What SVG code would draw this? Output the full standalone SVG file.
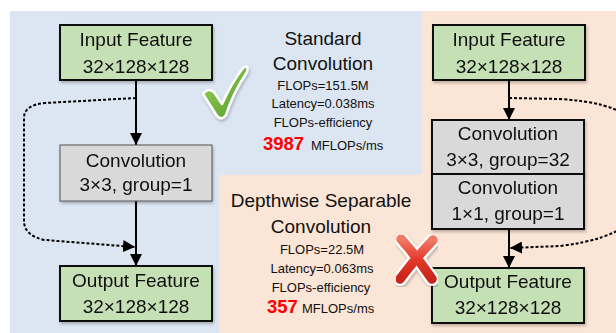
<svg xmlns="http://www.w3.org/2000/svg" width="616" height="333" viewBox="0 0 616 333">
  <defs>
    <style>
      .t { font-family: "Liberation Sans", Arial, sans-serif; fill: #111; }
      .big { font-size: 19px; text-anchor: middle; }
      .sm { font-size: 13px; text-anchor: middle; }
      .unit { font-size: 13px; }
      .num { font-size: 18.5px; font-weight: bold; fill: #ff0000; }
      .green { fill: #c5e0b4; stroke: #111; stroke-width: 2; }
      .gray { fill: #d9d9d9; stroke: #111; stroke-width: 2; }
      .gray-thin { fill: #d9d9d9; stroke: #555; stroke-width: 1; }
      .solid { fill: none; stroke: #000; stroke-width: 2; }
      .dash { fill: none; stroke: #000; stroke-width: 2; stroke-dasharray: 3 2; }
    </style>
    <marker id="ah" viewBox="0 0 12 12" refX="12" refY="6" markerWidth="12" markerHeight="12" markerUnits="userSpaceOnUse" orient="auto">
      <path d="M0,0 L12,6 L0,12 Z" fill="#000"/>
    </marker>
    <filter id="sh" x="-10%" y="-10%" width="125%" height="130%">
      <feDropShadow dx="1" dy="2" stdDeviation="1.5" flood-color="#000" flood-opacity="0.25"/>
    </filter>
    <linearGradient id="gChk" x1="0" y1="0" x2="1" y2="1">
      <stop offset="0" stop-color="#9fd45a"/>
      <stop offset="1" stop-color="#4e9a2a"/>
    </linearGradient>
    <linearGradient id="gX" x1="0" y1="0" x2="0" y2="1">
      <stop offset="0" stop-color="#f07a66"/>
      <stop offset="0.5" stop-color="#e2392a"/>
      <stop offset="1" stop-color="#c8251a"/>
    </linearGradient>
  </defs>

  <!-- background panels -->
  <rect x="0" y="0" width="616" height="333" fill="#ffffff"/>
  <rect x="10" y="11" width="412" height="164" fill="#dce6f2"/>
  <rect x="10" y="175" width="209" height="158" fill="#dce6f2"/>
  <rect x="422" y="11" width="194" height="322" fill="#fbe5d6"/>
  <rect x="219" y="175" width="203" height="158" fill="#fbe5d6"/>

  <!-- connectors -->
  <g id="connectors">
    <path class="solid" d="M136,80 L136,145" marker-end="url(#ah)"/>
    <path class="solid" d="M136,201 L136,266" marker-end="url(#ah)"/>
    <path class="dash" d="M136,98 L45,103 Q24,105 24,118 L24,222 Q25,236 45,240 L135,247" marker-end="url(#ah)"/>
    <path class="solid" d="M509,80 L509,120" marker-end="url(#ah)"/>
    <path class="solid" d="M509,229 L509,268" marker-end="url(#ah)"/>
    <path class="dash" d="M509,98 L560,99 Q610,102 630,118 L630,222 Q610,240 560,246 L510,248" marker-end="url(#ah)"/>
  </g>

  <!-- standard convolution branch -->
  <g id="std-input" filter="url(#sh)">
    <rect class="green" x="60" y="25" width="152" height="55"/>
    <text class="t big" x="136" y="46">Input Feature</text>
    <text class="t big" x="136" y="73">32×128×128</text>
  </g>
  <g id="std-conv" filter="url(#sh)">
    <rect class="gray-thin" x="60" y="145" width="152" height="56"/>
    <text class="t big" x="136" y="167">Convolution</text>
    <text class="t big" x="136" y="191">3×3, group=1</text>
  </g>
  <g id="std-output" filter="url(#sh)">
    <rect class="green" x="60" y="266" width="152" height="55"/>
    <text class="t big" x="136" y="287">Output Feature</text>
    <text class="t big" x="136" y="313">32×128×128</text>
  </g>

  <!-- depthwise separable branch -->
  <g id="dw-input" filter="url(#sh)">
    <rect class="green" x="433" y="25" width="152" height="55"/>
    <text class="t big" x="509" y="46">Input Feature</text>
    <text class="t big" x="509" y="73">32×128×128</text>
  </g>
  <g id="dw-conv" filter="url(#sh)">
    <rect class="gray" x="432" y="120" width="152" height="54"/>
    <text class="t big" x="508" y="140">Convolution</text>
    <text class="t big" x="508" y="166">3×3, group=32</text>
  </g>
  <g id="pw-conv" filter="url(#sh)">
    <rect class="gray" x="432" y="174" width="152" height="55"/>
    <text class="t big" x="508" y="194">Convolution</text>
    <text class="t big" x="508" y="220">1×1, group=1</text>
  </g>
  <g id="dw-output" filter="url(#sh)">
    <rect class="green" x="432" y="268" width="152" height="55"/>
    <text class="t big" x="508" y="288">Output Feature</text>
    <text class="t big" x="508" y="314">32×128×128</text>
  </g>

  <!-- standard convolution stats -->
  <g id="std-stats">
    <text class="t big" x="323" y="45">Standard</text>
    <text class="t big" x="323" y="70">Convolution</text>
    <text class="t sm" x="323" y="90">FLOPs=151.5M</text>
    <text class="t sm" x="323" y="108">Latency=0.038ms</text>
    <text class="t sm" x="323" y="127">FLOPs-efficiency</text>
    <text class="t num" x="263" y="150">3987</text>
    <text class="t unit" x="311" y="150">MFLOPs/ms</text>
  </g>

  <!-- depthwise separable stats -->
  <g id="dw-stats">
    <text class="t big" x="321" y="207">Depthwise Separable</text>
    <text class="t big" x="321" y="233">Convolution</text>
    <text class="t sm" x="322" y="254">FLOPs=22.5M</text>
    <text class="t sm" x="322" y="273">Latency=0.063ms</text>
    <text class="t sm" x="321" y="292">FLOPs-efficiency</text>
    <text class="t num" x="267" y="313">357</text>
    <text class="t unit" x="302" y="313">MFLOPs/ms</text>
  </g>

  <!-- green check mark -->
  <g id="check" filter="url(#sh)">
    <path d="M203,94 Q208,87 214,92 L222,104 Q232,82 243,68 Q249,64 247,72 Q233,93 226,115 Q222,121 217,116 Z" fill="url(#gChk)" stroke="#ffffff" stroke-width="2.5" stroke-linejoin="round"/>
  </g>

  <!-- red cross -->
  <g id="cross" filter="url(#sh)">
    <g stroke="#ffffff" stroke-width="14" stroke-linecap="round" fill="none">
      <path d="M401,239 Q418,258 432,279"/>
      <path d="M433,240 Q414,260 400,279"/>
    </g>
    <g stroke="url(#gX)" stroke-width="9.5" stroke-linecap="round" fill="none">
      <path d="M401,239 Q418,258 432,279"/>
      <path d="M433,240 Q414,260 400,279"/>
    </g>
  </g>
</svg>
